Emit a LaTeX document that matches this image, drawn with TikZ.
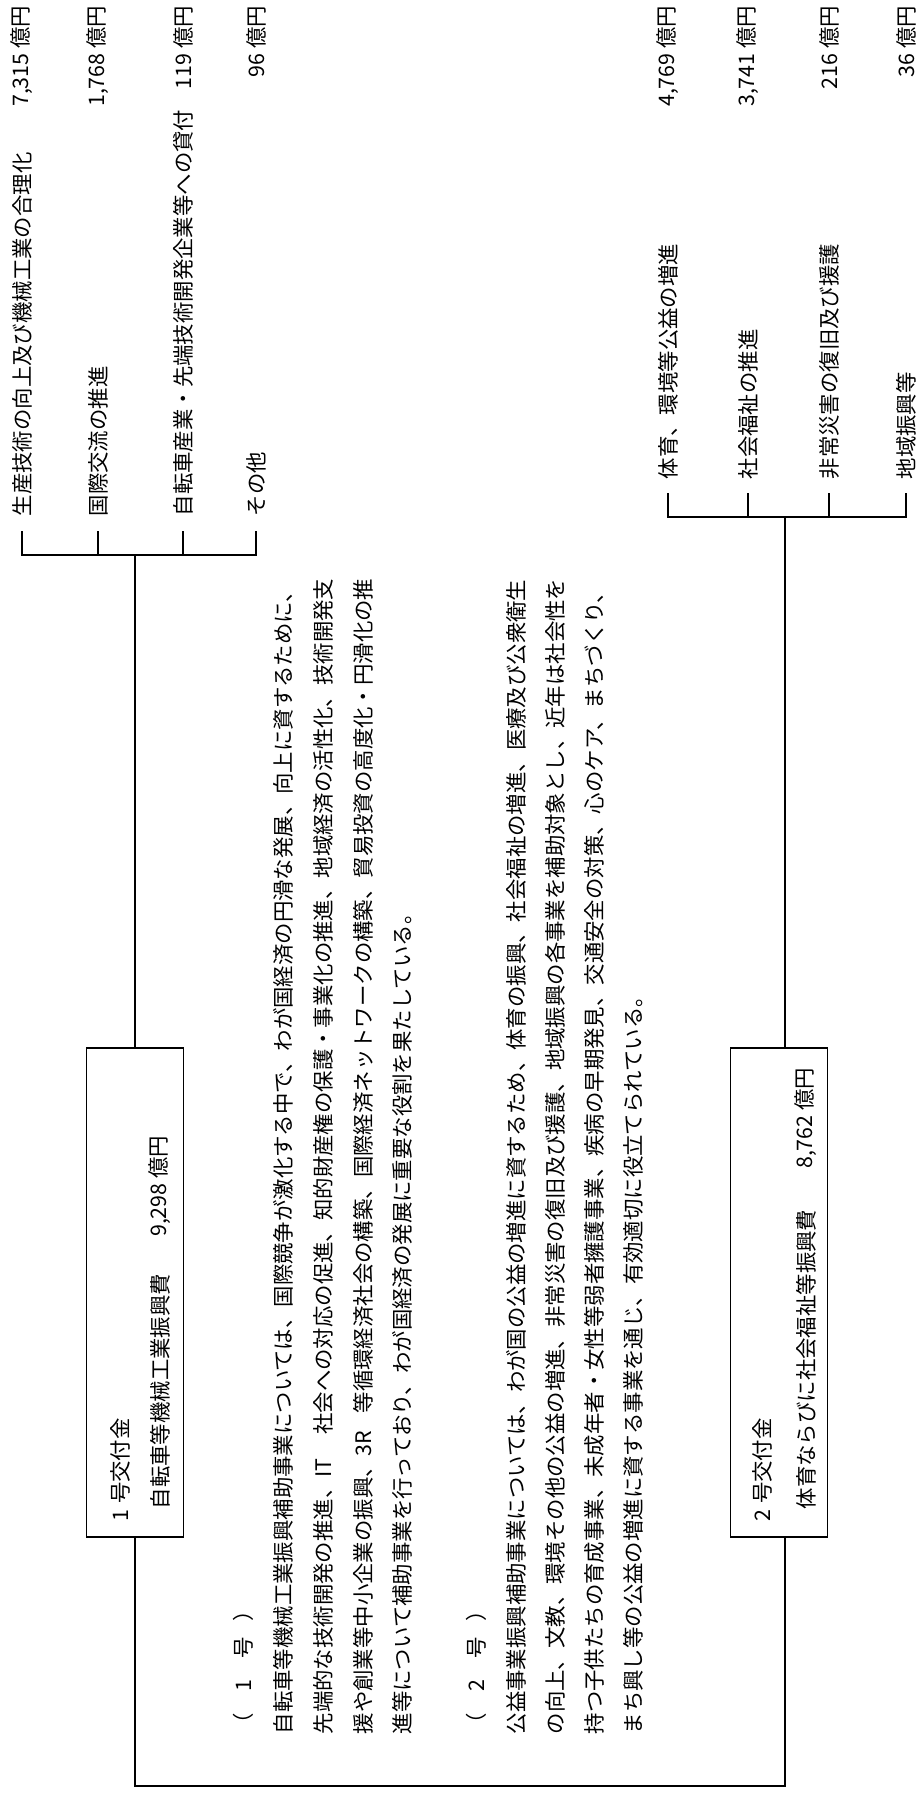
\documentclass[tikz,border=0pt]{standalone}
\usepackage{fontspec}
\setmainfont{Noto Sans CJK JP}
\begin{document}
\begin{tikzpicture}[x=1pt,y=-1pt,line width=1.6pt,
  lbl/.style={rotate=90,anchor=west,inner sep=0pt,font=\fontsize{21.4}{24}\selectfont},
  amt/.style={rotate=90,anchor=east,inner sep=0pt,font=\fontsize{21.4}{24}\selectfont},
  body/.style={rotate=90,anchor=west,inner sep=0pt,font=\fontsize{21.4}{24}\selectfont},
  fbox/.style={draw,inner sep=0pt,minimum width=97pt,minimum height=489pt}]
\useasboundingbox (0,0) rectangle (923,1809);

% boxes
\node[fbox] (b1) at (135,1292.5) {};
\node[fbox] (b2) at (779,1292.5) {};

% box texts
\node[lbl] (b1t1) at (120,1522) {1\hspace{0.25em}号交付金};
\node[lbl] (b1t2) at (160,1510) {自転車等機械工業振興費};
\node[amt] (b1a) at (160,1135) {9,298 億円};
\node[lbl] (b2t1) at (762,1522) {2\hspace{0.25em}号交付金};
\node[lbl] (b2t2) at (806,1510) {体育ならびに社会福祉等振興費};
\node[amt] (b2a) at (806,1067) {8,762 億円};

% bracket 1
\coordinate (k11) at (22,531);
\coordinate (k12) at (98,531);
\coordinate (k13) at (183,531);
\coordinate (k14) at (256,531);
\coordinate (j1) at (135,555);
\draw (k11) -- ++(0,24) -| (k14);
\draw (k12) -- ++(0,24);
\draw (k13) -- ++(0,24);
\draw (j1) -- (b1.north);

\node[lbl] (l11) at (22,517) {生産技術の向上及び機械工業の合理化};
\node[lbl] (l12) at (98,517) {国際交流の推進};
\node[lbl] (l13) at (183,517) {自転車産業・先端技術開発企業等への貸付};
\node[lbl] (l14) at (256,517) {その他};
\node[amt] (a11) at (22,5) {7,315 億円};
\node[amt] (a12) at (98,5) {1,768 億円};
\node[amt] (a13) at (183,5) {119 億円};
\node[amt] (a14) at (256,5) {96 億円};

% bracket 2
\coordinate (k21) at (668,493);
\coordinate (k22) at (748,493);
\coordinate (k23) at (829,493);
\coordinate (k24) at (906,493);
\coordinate (j2) at (785,517);
\draw (k21) -- ++(0,24) -| (k24);
\draw (k22) -- ++(0,24);
\draw (k23) -- ++(0,24);
\draw (j2) -- (j2 |- b2.north);

\node[lbl] (l21) at (668,480) {体育、環境等公益の増進};
\node[lbl] (l22) at (748,480) {社会福祉の推進};
\node[lbl] (l23) at (829,480) {非常災害の復旧及び援護};
\node[lbl] (l24) at (906,480) {地域振興等};
\node[amt] (a21) at (668,5) {4,769 億円};
\node[amt] (a22) at (748,5) {3,741 億円};
\node[amt] (a23) at (829,5) {216 億円};
\node[amt] (a24) at (906,5) {36 億円};

% bottom connector
\coordinate (bl) at (135,1786);
\draw (b1.south) -- (bl) -| (j2 |- b2.south);

% body text
\node[body] (h1) at (243,1735) {（\hspace{1em}1\hspace{1em}号\hspace{0.7em}）};
\node[body] (p11) at (283,1735) {自転車等機械工業振興補助事業については、国際競争が激化する中で、わが国経済の円滑な発展、向上に資するために、};
\node[body] (p12) at (323,1735) {先端的な技術開発の推進、\makebox[2em][l]{IT}社会への対応の促進、知的財産権の保護・事業化の推進、地域経済の活性化、技術開発支};
\node[body] (p13) at (363,1735) {援や創業等中小企業の振興、\makebox[2em][l]{3R}等循環経済社会の構築、国際経済ネットワークの構築、貿易投資の高度化・円滑化の推};
\node[body] (p14) at (402,1735) {進等について補助事業を行っており、わが国経済の発展に重要な役割を果たしている。};
\node[body] (h2) at (476,1735) {（\hspace{1em}2\hspace{1em}号\hspace{0.7em}）};
\node[body] (p21) at (516,1735) {公益事業振興補助事業については、わが国の公益の増進に資するため、体育の振興、社会福祉の増進、医療及び公衆衛生};
\node[body] (p22) at (555,1735) {の向上、文教、環境その他の公益の増進、非常災害の復旧及び援護、地域振興の各事業を補助対象とし、近年は社会性を};
\node[body] (p23) at (594,1735) {持つ子供たちの育成事業、未成年者・女性等弱者擁護事業、疾病の早期発見、交通安全の対策、心のケア、まちづくり、};
\node[body] (p24) at (633,1735) {まち興し等の公益の増進に資する事業を通じ、有効適切に役立てられている。};
\end{tikzpicture}
\end{document}
